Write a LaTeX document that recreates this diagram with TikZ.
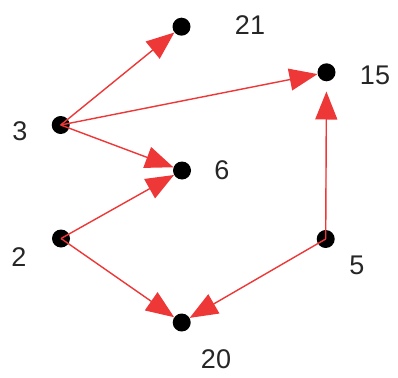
\documentclass[tikz,border=0pt]{standalone}
\usepackage{fontspec}
\setmainfont{Liberation Sans}
\usetikzlibrary{arrows.meta}
\definecolor{edgered}{RGB}{238,55,55}
\tikzset{
  vertex/.style={circle,fill=black,inner sep=0pt,minimum size=18pt},
  lbl/.style={font=\fontsize{27}{27}\selectfont,text=black!85,inner sep=0pt},
  edge/.style={draw=edgered,line width=1.4pt,-{Triangle[length=28pt,width=22pt]},fill=edgered}
}
\begin{document}
\begin{tikzpicture}[x=1pt,y=-1pt]
\useasboundingbox (0,0) rectangle (398,377);
\node[vertex] (v21) at (181.5,26.7) {};
\node[vertex] (v15) at (326.5,72.3) {};
\node[vertex] (v3) at (60.7,125) {};
\node[vertex] (v6) at (182,170.5) {};
\node[vertex] (v2) at (61,238.5) {};
\node[vertex] (v5) at (325.7,239) {};
\node[vertex] (v20) at (181.7,322.5) {};
\node[lbl] (l21) at (250,25) {21};
\node[lbl] (l15) at (375,75) {15};
\node[lbl] (l3) at (20,131) {3};
\node[lbl] (l6) at (222,170) {6};
\node[lbl] (l2) at (19,257) {2};
\node[lbl] (l5) at (357,265) {5};
\node[lbl] (l20) at (216,359) {20};
\draw[edge] (v3.center) -- (v21);
\draw[edge] (v3.center) -- (v15);
\draw[edge] (v3.center) -- (v6);
\draw[edge] (v2.center) -- (v6);
\draw[edge] (v2.center) -- (v20);
\draw[edge] (v5.center) -- (v20);
\draw[edge,shorten >=10pt] (v5.center) -- (v15);
\end{tikzpicture}
\end{document}
